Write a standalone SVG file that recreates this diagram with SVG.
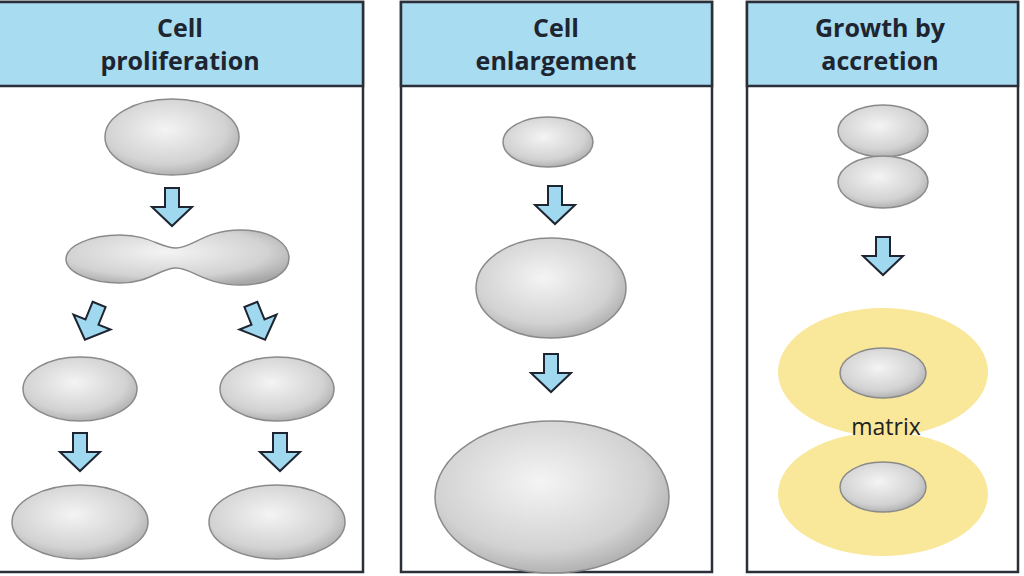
<svg xmlns="http://www.w3.org/2000/svg" width="1024" height="576" viewBox="0 0 1024 576">
<style>
.hdr{fill:#a8dcf0;stroke:#2a2f38;stroke-width:2.5}
.box{fill:#fff;stroke:#2a2f38;stroke-width:2.5}
.ht{font-family:"Open Sans",sans-serif;font-weight:bold;font-size:25px;fill:#1e2530;text-anchor:middle}
.cell{fill:url(#g);stroke:#8a8a8a;stroke-width:1.5}
.arr{fill:#9fd8ef;stroke:#1e2530;stroke-width:2;stroke-linejoin:miter}
.mat{fill:#f9e79a}
</style>
<defs>
<radialGradient id="g" cx="0.45" cy="0.4" r="0.65">
<stop offset="0" stop-color="#f4f4f4"/><stop offset="0.7" stop-color="#d2d2d2"/><stop offset="1" stop-color="#a8a8a8"/>
</radialGradient>
<path id="a" d="M-7,-19 H7 V0 H20 L0,19 L-20,0 H-7 Z"/>
</defs>
<g id="panel1">
<rect class="box" x="-2" y="2" width="365" height="570"/>
<rect class="hdr" x="-2" y="2" width="365" height="84"/>
<text class="ht" x="180" y="37">Cell</text>
<text class="ht" x="180" y="70">proliferation</text>
</g>
<g id="panel2">
<rect class="box" x="401" y="2" width="311" height="570"/>
<rect class="hdr" x="401" y="2" width="311" height="84"/>
<text class="ht" x="556" y="37">Cell</text>
<text class="ht" x="556" y="70">enlargement</text>
</g>
<g id="panel3">
<rect class="box" x="747" y="2" width="271" height="570"/>
<rect class="hdr" x="747" y="2" width="271" height="84"/>
<text class="ht" x="880" y="37">Growth by</text>
<text class="ht" x="880" y="70">accretion</text>
</g>
<g id="cells">
<ellipse class="cell" cx="172" cy="137" rx="67" ry="38"/>
<path class="cell" d="M120,235 C150,235 160,248 176,248 C192,248 205,230 240,230 C275,230 289,246 289,258 C289,272 272,285 240,285 C205,285 192,268 176,268 C160,268 150,283 120,283 C90,283 66,272 66,259 C66,246 90,235 120,235 Z"/>
<ellipse class="cell" cx="80" cy="389" rx="57" ry="32"/>
<ellipse class="cell" cx="277" cy="389" rx="57" ry="32"/>
<ellipse class="cell" cx="80" cy="522" rx="68" ry="37"/>
<ellipse class="cell" cx="277" cy="522" rx="68" ry="37"/>
<ellipse class="cell" cx="548" cy="142" rx="45" ry="25"/>
<ellipse class="cell" cx="551" cy="288" rx="75" ry="50"/>
<ellipse class="cell" cx="552" cy="497" rx="117" ry="76"/>
<ellipse class="cell" cx="883" cy="131" rx="45" ry="26"/>
<ellipse class="cell" cx="883" cy="182" rx="45" ry="26"/>
<ellipse class="mat" cx="883" cy="372" rx="105" ry="64"/>
<ellipse class="mat" cx="883" cy="494" rx="105" ry="62"/>
<ellipse class="cell" cx="883" cy="373" rx="43" ry="25"/>
<ellipse class="cell" cx="883" cy="487" rx="43" ry="25"/>
<text x="886" y="435" font-family="Open Sans,sans-serif" font-size="23" fill="#222" text-anchor="middle">matrix</text>
</g>
<g id="connectors">
<use href="#a" class="arr" transform="translate(172,207)"/>
<use href="#a" class="arr" transform="translate(92,322) rotate(22)"/>
<use href="#a" class="arr" transform="translate(258,322) rotate(-22)"/>
<use href="#a" class="arr" transform="translate(80,452)"/>
<use href="#a" class="arr" transform="translate(280,452)"/>
<use href="#a" class="arr" transform="translate(555,205)"/>
<use href="#a" class="arr" transform="translate(551,373)"/>
<use href="#a" class="arr" transform="translate(883,256)"/>
</g>
</svg>
